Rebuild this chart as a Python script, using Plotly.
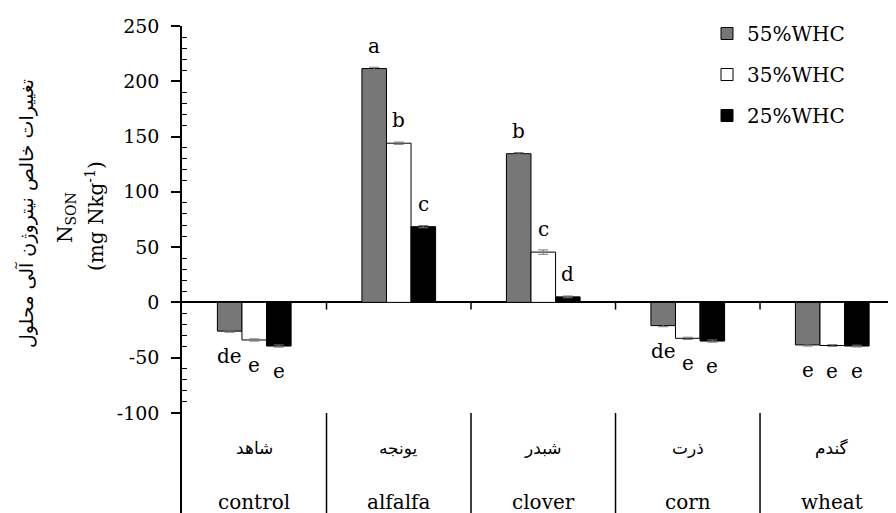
import plotly.graph_objects as go

# ---- data ----
categories_en = ["control", "alfalfa", "clover", "corn", "wheat"]
categories_fa = ["شاهد", "یونجه", "شبدر", "ذرت", "گندم"]
series_names = ["55%WHC", "35%WHC", "25%WHC"]
whc55 = [-26.0, 211.5, 134.5, -21.0, -38.5]
whc35 = [-34.0, 144.0, 45.5, -32.5, -39.0]
whc25 = [-39.5, 68.5, 5.0, -35.0, -39.5]
err55 = [1.0, 1.2, 1.0, 1.0, 1.0]
err35 = [1.0, 1.0, 2.0, 1.0, 0.8]
err25 = [1.0, 1.0, 0.8, 1.0, 0.8]
letters55 = ["de", "a", "b", "de", "e"]
letters35 = ["e", "b", "c", "e", "e"]
letters25 = ["e", "c", "d", "e", "e"]
y_ticks = [-100, -50, 0, 50, 100, 150, 200, 250]
y_tick_text = [str(v) for v in y_ticks]
y_minor = [v for v in range(-90, 250, 10) if v % 50 != 0]

series_values = [whc55, whc35, whc25]
series_errors = [err55, err35, err25]
series_letters = [letters55, letters35, letters25]
colors = ["#777777", "#ffffff", "#000000"]

SERIF = "DejaVu Serif"
BARGAP = 0.49
bar_w = (1 - BARGAP) / 3
xpos = list(range(len(categories_en)))

# page body has an 8px margin; figure is sized so that the page fits the window
OFF = 8
FIG_W, FIG_H = 896 - OFF, 513 - OFF
L, T = 182, 26           # plot area left/top in window pixels
W, H = 896 - L, 513 - T  # plot area size

fig = go.Figure()
for name, vals, errs, col in zip(series_names, series_values, series_errors, colors):
    fig.add_trace(go.Bar(
        name=name, x=xpos, y=vals,
        marker=dict(color=col, line=dict(color="black", width=1)),
        error_y=dict(type="data", array=errs, color="#777777", thickness=1, width=5),
        legendgroup=name,
    ))

annotations = []
# significance letters
for j, (vals, letts) in enumerate(zip(series_values, series_letters)):
    for i, (v, t) in enumerate(zip(vals, letts)):
        annotations.append(dict(
            x=i + (j - 1) * bar_w, y=v, xref="x", yref="y", text=t,
            showarrow=False, yshift=23 if v >= 0 else -25,
            font=dict(family=SERIF, size=20, color="black"),
        ))

# category labels (Persian + English)
for i, (fa, en) in enumerate(zip(categories_fa, categories_en)):
    annotations.append(dict(x=i, y=-131.5, xref="x", yref="y", text=fa, showarrow=False,
                            font=dict(family="DejaVu Sans", size=17, color="black")))
    annotations.append(dict(x=i, y=-180.5, xref="x", yref="y", text=en, showarrow=False,
                            font=dict(family=SERIF, size=20, color="black")))

def px(xp):
    return (xp - L) / W
def py(yp):
    return (T + H - yp) / H

annotations.append(dict(x=px(26), y=py(214), xref="paper", yref="paper",
                        text="تغییرات خالص نیتروژن آلی محلول", textangle=-90,
                        showarrow=False, xanchor="center", yanchor="middle",
                        font=dict(family="DejaVu Sans", size=19, color="black")))
annotations.append(dict(x=px(66), y=py(218), xref="paper", yref="paper",
                        text="N<sub>SON</sub>", textangle=-90,
                        showarrow=False, xanchor="center", yanchor="middle",
                        font=dict(family=SERIF, size=20, color="black")))
annotations.append(dict(x=px(95), y=py(216), xref="paper", yref="paper",
                        text="(mg Nkg<sup>-1</sup>)", textangle=-90,
                        showarrow=False, xanchor="center", yanchor="middle",
                        font=dict(family=SERIF, size=20, color="black")))

shapes = []
for i in range(len(categories_en) - 1):
    shapes.append(dict(type="line", xref="x", yref="y", x0=i + 0.5, x1=i + 0.5,
                       y0=-100, y1=-191, line=dict(color="black", width=1.5)))
    shapes.append(dict(type="line", xref="x", yref="y", x0=i + 0.5, x1=i + 0.5,
                       y0=0, y1=-6.5, line=dict(color="black", width=1.5)))

fig.update_layout(
    width=FIG_W, height=FIG_H,
    margin=dict(l=L - OFF, r=FIG_W - (L - OFF) - W, t=T - OFF, b=FIG_H - (T - OFF) - H, autoexpand=False),
    paper_bgcolor="white", plot_bgcolor="white",
    barmode="group", bargap=BARGAP, bargroupgap=0,
    showlegend=True,
    legend=dict(x=px(707), y=py(14), xanchor="left", yanchor="top",
                font=dict(family=SERIF, size=20, color="black"),
                tracegroupgap=12, bgcolor="rgba(0,0,0,0)"),
    xaxis=dict(range=[-0.5, 4.441], showticklabels=False, ticks="", showline=False,
               showgrid=False, zeroline=False),
    yaxis=dict(range=[-190.5, 250], tickvals=y_ticks, ticktext=y_tick_text,
               ticks="outside", ticklen=9,
               tickwidth=1.5, tickcolor="black", showline=True, linecolor="black",
               linewidth=1.5, showgrid=False, zeroline=True, zerolinecolor="black",
               zerolinewidth=2, ticklabelstandoff=8,
               tickfont=dict(family=SERIF, size=19, color="black"),
               minor=dict(tickvals=y_minor, ticks="inside", ticklen=5, tickwidth=1,
                          tickcolor="black")),
    annotations=annotations, shapes=shapes,
)

fig.write_html("out.html")
